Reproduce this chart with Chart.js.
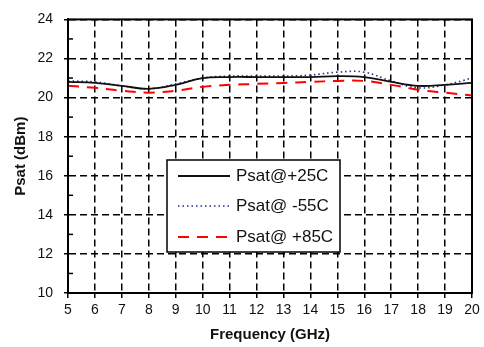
<!DOCTYPE html>
<html>
<head>
<meta charset="utf-8">
<script src="https://cdn.jsdelivr.net/npm/chart.js@4.4.1/dist/chart.umd.min.js"></script>
<style>
  html, body { margin: 0; padding: 0; background: #fff; }
  canvas { display: block; }
</style>
</head>
<body>
<canvas id="psatChart" width="484" height="347"></canvas>
<script>
// frequency points (GHz)
var freq = [5, 6, 7, 8, 9, 10, 11, 12, 13, 14, 15, 16, 17, 18, 19, 20];
// Psat (dBm)
var psat25 = [20.8, 20.75, 20.6, 20.45, 20.65, 21.0, 21.05, 21.05, 21.05, 21.05, 21.1, 21.05, 20.8, 20.6, 20.65, 20.75];
var psatM55 = [20.85, 20.8, 20.6, 20.45, 20.7, 21.0, 21.1, 21.1, 21.1, 21.15, 21.3, 21.3, 20.85, 20.5, 20.65, 21.0];
var psat85 = [20.6, 20.5, 20.35, 20.25, 20.35, 20.55, 20.65, 20.7, 20.75, 20.8, 20.85, 20.85, 20.65, 20.4, 20.25, 20.1];
var seriesLabels = ["Psat@+25C", "Psat@ -55C", "Psat@ +85C"];
var yMin = 10, yMax = 24, yStep = 2;
var xMin = 5, xMax = 20;

var FONT = "'Liberation Sans', Arial, sans-serif";

function toPoints(values) {
	return values.map(function (v, i) {
		return { x: freq[i], y: v };
	});
}

// solid frame, minor y ticks and the boxed legend inside the plot
var framePlugin = {
	id: "frame",
	afterDraw: function (chart) {
		var ctx = chart.ctx;
		var area = chart.chartArea;
		var yScale = chart.scales.y;

		ctx.save();
		ctx.strokeStyle = "#000";
		ctx.lineWidth = 2;
		ctx.setLineDash([]);
		ctx.strokeRect(area.left, area.top, area.right - area.left, area.bottom - area.top);

		// minor ticks on the inside of the left axis
		ctx.lineWidth = 1.5;
		for (var v = yMin + 1; v < yMax; v += 2) {
			var py = yScale.getPixelForValue(v);
			ctx.beginPath();
			ctx.moveTo(area.left, py);
			ctx.lineTo(area.left + 5, py);
			ctx.stroke();
		}

		// legend box
		var bx = 167, by = 160, bw = 173, bh = 92;
		ctx.fillStyle = "#fff";
		ctx.fillRect(bx, by, bw, bh);
		ctx.lineWidth = 1.5;
		ctx.strokeRect(bx, by, bw, bh);

		var rows = [176, 206, 237];
		ctx.font = "17px " + FONT;
		ctx.textBaseline = "middle";
		ctx.textAlign = "left";
		chart.data.datasets.forEach(function (ds, i) {
			ctx.beginPath();
			ctx.strokeStyle = ds.borderColor;
			ctx.lineWidth = ds.borderWidth;
			ctx.setLineDash(ds.borderDash || []);
			ctx.moveTo(178, rows[i]);
			ctx.lineTo(230, rows[i]);
			ctx.stroke();
			ctx.setLineDash([]);
			ctx.fillStyle = "#111";
			ctx.fillText(ds.label, 236, rows[i]);
		});
		ctx.restore();
	},
};

new Chart(document.getElementById("psatChart"), {
	type: "line",
	data: {
		datasets: [
			{
				label: seriesLabels[0],
				data: toPoints(psat25),
				borderColor: "#111111",
				borderWidth: 1.8,
				borderDash: [],
				tension: 0.4,
				pointRadius: 0,
			},
			{
				label: seriesLabels[1],
				data: toPoints(psatM55),
				borderColor: "#1c2f8a",
				borderWidth: 1.6,
				borderDash: [1.5, 3],
				tension: 0.4,
				pointRadius: 0,
			},
			{
				label: seriesLabels[2],
				data: toPoints(psat85),
				borderColor: "#ff0000",
				borderWidth: 2,
				borderDash: [11, 8],
				tension: 0.4,
				pointRadius: 0,
			},
		],
	},
	options: {
		responsive: false,
		animation: false,
		devicePixelRatio: 1,
		layout: {
			padding: { top: 13, right: 12, left: 0, bottom: 0 },
		},
		plugins: {
			legend: { display: false },
			tooltip: { enabled: false },
		},
		scales: {
			x: {
				type: "linear",
				min: xMin,
				max: xMax,
				ticks: {
					stepSize: 1,
					padding: 4,
					color: "#111",
					font: { family: FONT, size: 14 },
					maxRotation: 0,
				},
				grid: {
					color: "#000",
					lineWidth: 1.5,
					tickLength: 5,
					tickColor: "#000",
					tickWidth: 1.5,
				},
				border: { display: true, color: "#000", width: 2, dash: [7, 4] },
				title: {
					display: true,
					text: "Frequency (GHz)",
					color: "#111",
					font: { family: FONT, size: 15, weight: "bold" },
					padding: { top: 0, bottom: 3 },
				},
				afterFit: function (scale) {
					scale.height = 54;
				},
			},
			y: {
				min: yMin,
				max: yMax,
				ticks: {
					stepSize: yStep,
					padding: 11,
					color: "#111",
					font: { family: FONT, size: 14 },
				},
				grid: {
					color: "#000",
					lineWidth: 1.5,
					tickLength: 4,
					tickColor: "#000",
					tickWidth: 1.5,
				},
				border: { display: true, color: "#000", width: 2, dash: [7, 4] },
				title: {
					display: true,
					text: "Psat (dBm)",
					color: "#111",
					font: { family: FONT, size: 15, weight: "bold" },
					padding: { top: 12, bottom: 0 },
				},
				afterFit: function (scale) {
					scale.width = 68;
				},
			},
		},
	},
	plugins: [framePlugin],
});
</script>
</body>
</html>
